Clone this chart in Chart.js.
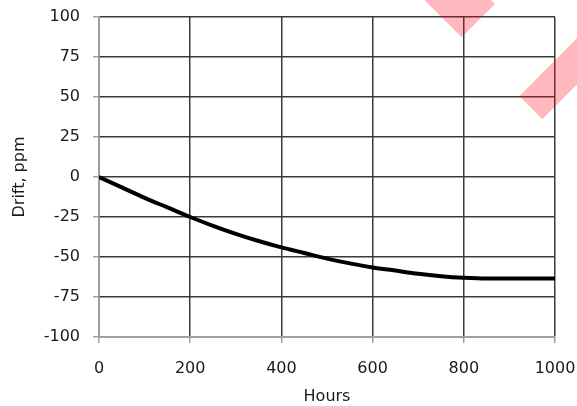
<!DOCTYPE html>
<html>
<head>
<meta charset="utf-8">
<script src="https://cdn.jsdelivr.net/npm/chart.js@4/dist/chart.umd.min.js"></script>
<style>
  html, body { margin: 0; padding: 0; background: #fff; }
  #wrap { width: 577px; height: 406px; position: relative; }
</style>
</head>
<body>
<div id="wrap"><canvas id="c" width="577" height="406"></canvas></div>
<script>
// ---- data ----
const hours = [0, 50, 100, 150, 200, 250, 300, 350, 400, 450, 500, 550, 600, 650, 700, 750, 800, 850, 900, 950, 1000];
const drift = [0, -6.5, -13, -19, -25, -30.5, -35.5, -40, -44, -47.5, -51, -54, -56.5, -58.5, -60.5, -62, -63, -63.5, -63.5, -63.5, -63.5];
const xTicks = [0, 200, 400, 600, 800, 1000];
const yTicks = [-100, -75, -50, -25, 0, 25, 50, 75, 100];
const xTitle = 'Hours';
const yTitle = 'Drift, ppm';

const FONT = 'DejaVu Sans';

// decorative pink stripes in the top-right corner (watermark, not data)
const stripes = {
  id: 'stripes',
  afterDraw(chart) {
    const ctx = chart.ctx;
    ctx.save();
    ctx.fillStyle = 'rgba(255,0,20,0.28)';
    const polys = [
      [[461.7, 37.3], [495, 4], [495 - 60, 4 - 60], [461.7 - 60, 37.3 - 60]],
      [[519.3, 96], [542.3, 119.3], [542.3 + 90, 119.3 - 90], [519.3 + 90, 96 - 90]]
    ];
    polys.forEach(p => {
      ctx.beginPath();
      ctx.moveTo(p[0][0], p[0][1]);
      for (let i = 1; i < p.length; i++) ctx.lineTo(p[i][0], p[i][1]);
      ctx.closePath();
      ctx.fill();
    });
    ctx.restore();
  }
};

new Chart(document.getElementById('c'), {
  type: 'line',
  data: {
    datasets: [{
      data: hours.map((h, i) => ({ x: h, y: drift[i] })),
      borderColor: '#000',
      borderWidth: 4,
      pointRadius: 0,
      cubicInterpolationMode: 'monotone',
      fill: false
    }]
  },
  options: {
    responsive: false,
    animation: false,
    layout: { padding: { left: 0, right: 22, top: 17, bottom: 0 } },
    plugins: { legend: { display: false }, tooltip: { enabled: false } },
    scales: {
      x: {
        type: 'linear',
        min: 0, max: 1000,
        afterBuildTicks: axis => { axis.ticks = xTicks.map(v => ({ value: v })); },
        afterFit: axis => { axis.height = 69; axis.paddingLeft = 0; axis.paddingRight = 0; },
        grid: { color: '#3a3a3a', lineWidth: 1.5, tickColor: '#a0a0a0', tickLength: 6, drawTicks: true },
        border: { color: '#a0a0a0', width: 1.5 },
        ticks: { color: '#1a1a1a', font: { family: FONT, size: 16 }, padding: 16, maxRotation: 0,
                 callback: v => String(v) },
        title: { display: true, text: xTitle, color: '#1a1a1a', font: { family: FONT, size: 16 }, padding: { top: 0, bottom: 0 } }
      },
      y: {
        min: -100, max: 100,
        afterBuildTicks: axis => { axis.ticks = yTicks.map(v => ({ value: v })); },
        afterFit: axis => { axis.width = 99; axis.paddingTop = 0; axis.paddingBottom = 0; },
        grid: { color: '#3a3a3a', lineWidth: 1.5, tickColor: '#a0a0a0', tickLength: 6, drawTicks: true },
        border: { color: '#a0a0a0', width: 1.5 },
        ticks: { color: '#1a1a1a', font: { family: FONT, size: 16 }, padding: 13,
                 callback: v => String(v) },
        title: { display: true, text: yTitle, color: '#1a1a1a', font: { family: FONT, size: 16 }, padding: { top: 10, bottom: 0 } }
      }
    }
  },
  plugins: [stripes]
});
</script>
</body>
</html>
